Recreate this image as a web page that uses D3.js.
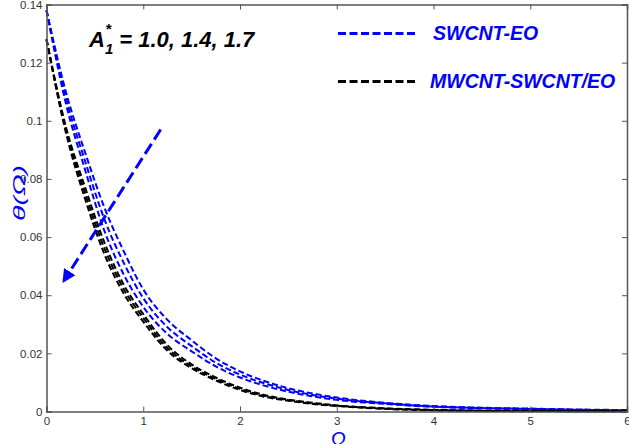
<!DOCTYPE html>
<html><head><meta charset="utf-8">
<script src="https://cdn.jsdelivr.net/npm/d3@7"></script>
<style>html,body{margin:0;padding:0;background:#fff}svg{display:block}</style>
</head><body><svg id="c" width="629" height="444"></svg>
<script>
const xs = [0,0.2,0.4,0.6,0.8,1.0,1.25,1.5,1.75,2,2.25,2.5,2.75,3,3.5,4,4.5,5,5.5,6];
const blueA10 = [.138,.110,.089,.070,.055,.042,.0315,.0245,.0183,.0138,.0105,.0080,.0062,.0048,.0030,.0019,.0013,.0010,.0007,.0005];
const blueA14 = [.138,.108,.086,.066,.051,.039,.029,.0225,.0168,.0127,.0097,.0074,.0057,.0044,.0028,.0017,.0012,.0009,.0006,.0004];
const blueA17 = [.138,.106,.083,.062,.047,.036,.0267,.0207,.0155,.0117,.0089,.0068,.0052,.0040,.0026,.0016,.0011,.0008,.0005,.0003];
const blackA10 = [.128,.098,.077,.058,.0435,.0335,.0228,.0162,.0117,.0082,.0057,.0041,.0030,.0021,.0011,.0006,.0003,.0002,.0001,.0001];
const blackA14 = [.128,.097,.075,.056,.042,.0322,.0218,.0155,.0112,.0078,.0054,.0039,.0028,.0020,.0010,.0005,.0003,.0002,.0001,.0001];
const blackA17 = [.128,.096,.073,.054,.0405,.0309,.0209,.0149,.0107,.0074,.0051,.0037,.0026,.0019,.0009,.0004,.0002,.0001,.0001,.0000];
const xTicks = [0,1,2,3,4,5,6];
const yTicks = [0,0.02,0.04,0.06,0.08,0.1,0.12,0.14];
const arrowFrom = [1.18,0.097], arrowTo = [0.18,0.045];
const legendLabels = ["SWCNT-EO","MWCNT-SWCNT/EO"];

const svg = d3.select("#c");
const x = d3.scaleLinear().domain([0,6]).range([46.5,627]);
const y = d3.scaleLinear().domain([0,0.14]).range([411.5,4.5]);
const axisCol = "#555", font = "Arial, 'Liberation Sans', sans-serif";

// curves
const line = d3.line().x((d,i)=>x(xs[i])).y(d=>y(d)).curve(d3.curveMonotoneX);
const series = [[blueA10,"#0000ff"],[blueA14,"#0000ff"],[blueA17,"#0000ff"],[blackA10,"#000"],[blackA14,"#000"],[blackA17,"#000"]];
svg.append("g").selectAll("path").data(series).join("path")
  .attr("d",d=>line(d[0])).attr("fill","none").attr("stroke",d=>d[1])
  .attr("stroke-width",2).attr("stroke-dasharray","6,3");

// axes (box with inward ticks)
const fmt = d=> d===0?"0":String(d);
const gb = svg.append("g").attr("transform",`translate(0,${y(0)})`)
  .call(d3.axisBottom(x).tickValues(xTicks).tickSize(-5).tickPadding(5).tickFormat(fmt));
const gt = svg.append("g").attr("transform",`translate(0,${y(0.14)})`)
  .call(d3.axisTop(x).tickValues(xTicks).tickSize(-5).tickFormat(""));
const gl = svg.append("g").attr("transform",`translate(${x(0)},0)`)
  .call(d3.axisLeft(y).tickValues(yTicks).tickSize(-5).tickPadding(4).tickFormat(fmt));
const gr = svg.append("g").attr("transform",`translate(${x(6)},0)`)
  .call(d3.axisRight(y).tickValues(yTicks).tickSize(-5).tickFormat(""));
[gb,gt,gl,gr].forEach(g=>{
  g.select(".domain").attr("stroke",axisCol).attr("stroke-width",1.5);
  g.selectAll(".tick line").attr("stroke",axisCol).attr("stroke-width",1);
  g.selectAll(".tick text").attr("fill","#333").attr("font-family",font).attr("font-size",11.5);
});

// arrow
const defs = svg.append("defs");
defs.append("marker").attr("id","ah").attr("viewBox","0 0 10 10").attr("refX",8).attr("refY",5)
  .attr("markerWidth",4.5).attr("markerHeight",4.5).attr("orient","auto")
  .append("path").attr("d","M0,0L10,5L0,10z").attr("fill","#0000ff");
svg.append("line").attr("x1",x(arrowFrom[0])).attr("y1",y(arrowFrom[1]))
  .attr("x2",x(arrowTo[0])).attr("y2",y(arrowTo[1]))
  .attr("stroke","#0000ff").attr("stroke-width",3).attr("stroke-dasharray","12,5")
  .attr("marker-end","url(#ah)");

// annotation
const ann = svg.append("text").attr("x",89).attr("y",47).attr("font-family",font)
  .attr("font-size",22).attr("font-weight","bold").attr("font-style","italic").attr("fill","#000");
ann.append("tspan").text("A");
ann.append("tspan").attr("font-size",15).attr("dy",7).text("1");
ann.append("tspan").attr("font-size",15).attr("dx",-8).attr("dy",-20).text("*");
ann.append("tspan").attr("dy",13).attr("dx",2).text(" = 1.0, 1.4, 1.7");

// legend
const leg = [[33.5,"#0000ff"],[81.5,"#000"]];
leg.forEach((l,i)=>{
  svg.append("line").attr("x1",338).attr("x2",417).attr("y1",l[0]).attr("y2",l[0])
    .attr("stroke",l[1]).attr("stroke-width",3).attr("stroke-dasharray","8,3.5");
  svg.append("text").attr("x",i===0?433:430).attr("y",l[0]+6.5).attr("font-family",font)
    .attr("font-size",19.5).attr("font-weight","bold").attr("font-style","italic")
    .attr("fill","#0000ff").text(legendLabels[i]);
});

// axis labels
svg.append("text").attr("transform","translate(25,193) rotate(-90)").attr("text-anchor","middle")
  .attr("font-family",font).attr("font-size",17).attr("font-style","italic").attr("fill","#0000ff")
  .attr("textLength",56).attr("lengthAdjust","spacingAndGlyphs").text("θ(Ω)");
svg.append("text").attr("x",338).attr("y",446).attr("text-anchor","middle")
  .attr("font-family",font).attr("font-size",20).attr("font-style","italic").attr("fill","#0000ff").text("Ω");
</script></body></html>
